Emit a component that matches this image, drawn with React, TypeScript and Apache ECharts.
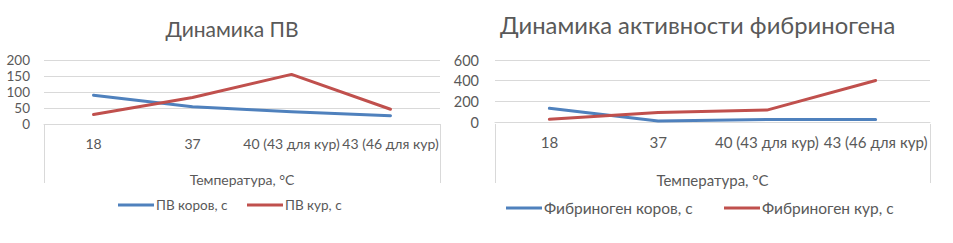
import React, { useEffect, useRef } from "react";
import * as echarts from "echarts";

const categories = ["18", "37", "40 (43 для кур)", "43 (46 для кур)"];
const pvCows = [90, 54, 38, 26];
const pvHens = [30, 83, 155, 46];
const fibCows = [132, 10, 24, 24];
const fibHens = [26, 92, 115, 402];
const pvTicks = { min: 0, max: 200, interval: 50 };
const fibTicks = { min: 0, max: 600, interval: 200 };

const BLUE = "#4F81BD";
const RED = "#C0504D";
const TXT = "#595959";
const GRID = "#D9D9D9";
const FONT = "Lato";

export default function App() {
  const ref = useRef<HTMLDivElement>(null);
  useEffect(() => {
    document.body.style.margin = "0";
    const chart = echarts.init(ref.current!, null, { renderer: "svg" });
    const xAxisBase = (gridIndex: number, fs: number, nfs: number, gap: number) => ({
      type: "category",
      gridIndex,
      data: categories,
      boundaryGap: true,
      axisLine: { lineStyle: { color: GRID, width: 1 } },
      axisTick: { show: false },
      axisLabel: { color: TXT, fontFamily: FONT, fontSize: fs, margin: 12, interval: 0 },
      name: "Температура, °C",
      nameLocation: "middle",
      nameGap: gap,
      nameTextStyle: { color: TXT, fontFamily: FONT, fontSize: nfs },
    });
    const yAxisBase = (gridIndex: number, t: any, fs: number, margin: number) => ({
      type: "value",
      gridIndex,
      min: t.min,
      max: t.max,
      interval: t.interval,
      axisLine: { show: false },
      axisTick: { show: false },
      splitLine: { lineStyle: { color: GRID, width: 1 } },
      axisLabel: { color: TXT, fontFamily: FONT, fontSize: fs, margin, lineHeight: 14 },
    });
    const line = (name: string, data: number[], color: string, idx: number) => ({
      type: "line",
      name,
      data,
      xAxisIndex: idx,
      yAxisIndex: idx,
      symbol: "none",
      lineStyle: { color, width: 3, cap: "round", join: "round" },
      itemStyle: { color },
    });
    const legend = (name: string, left: number, top: number, fs: number) => ({
      data: [name],
      left,
      top,
      icon: "rect",
      itemWidth: 36,
      itemHeight: 3,
      itemGap: 0,
      textStyle: { color: TXT, fontFamily: FONT, fontSize: fs, padding: [0, 0, 0, -3] },
      padding: 0,
    });
    const vline = (x: number) => ({
      type: "line",
      shape: { x1: x + 0.5, y1: 124, x2: x + 0.5, y2: 183 },
      style: { stroke: GRID, lineWidth: 1 },
    });
    chart.setOption({
      animation: false,
      backgroundColor: "#fff",
      title: [
        {
          text: "Динамика ПВ",
          left: 227,
          textAlign: "center",
          top: 13,
          textStyle: { color: TXT, fontFamily: FONT, fontSize: 21, fontWeight: "normal" },
        },
        {
          text: "Динамика активности фибриногена",
          left: 495,
          top: 8,
          textStyle: { color: TXT, fontFamily: FONT, fontSize: 23.8, fontWeight: "normal" },
        },
      ],
      grid: [
        { left: 44, top: 60, width: 396, height: 64 },
        { left: 495, top: 60, width: 435, height: 62 },
      ],
      xAxis: [xAxisBase(0, 14, 14, 48), xAxisBase(1, 15.1, 15, 50)],
      yAxis: [yAxisBase(0, pvTicks, 13.5, 14), yAxisBase(1, fibTicks, 14.5, 16)],
      legend: [
        legend("ПВ коров, с", 118, 198, 13.5),
        legend("ПВ кур, с", 247, 198, 13.5),
        legend("Фибриноген коров, с", 506, 200, 15.5),
        legend("Фибриноген кур, с", 724, 200, 15.5),
      ],
      series: [
        line("ПВ коров, с", pvCows, BLUE, 0),
        line("ПВ кур, с", pvHens, RED, 0),
        line("Фибриноген коров, с", fibCows, BLUE, 1),
        line("Фибриноген кур, с", fibHens, RED, 1),
      ],
      graphic: [vline(44), vline(440), vline(495), vline(930)],
    });
    return () => chart.dispose();
  }, []);
  return (
    <div
      ref={ref}
      style={{ position: "fixed", left: 0, top: 0, width: 953, height: 243 }}
    />
  );
}
